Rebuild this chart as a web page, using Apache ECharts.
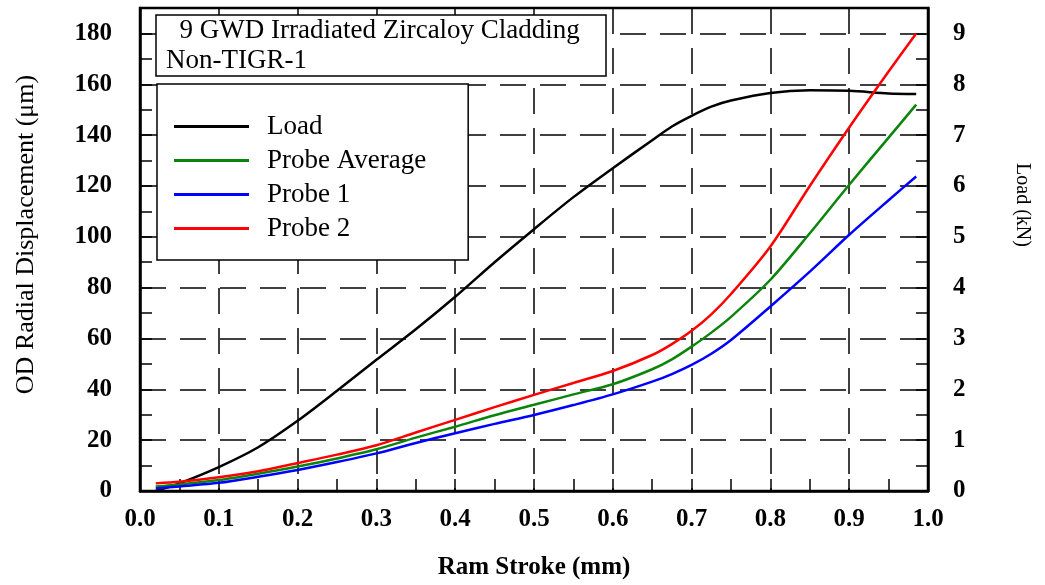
<!DOCTYPE html>
<html>
<head>
<meta charset="utf-8">
<script src="https://cdn.jsdelivr.net/npm/echarts@6/dist/echarts.min.js"></script>
<style>
  html, body { margin: 0; padding: 0; background: #fff; }
  #chart { width: 1045px; height: 585px; }
</style>
</head>
<body>
<div id="chart"></div>
<script>
  // ram stroke (mm)
  const stroke = [0.02, 0.05, 0.1, 0.15, 0.2, 0.25, 0.3, 0.35, 0.4, 0.45, 0.5, 0.55, 0.6, 0.65, 0.675, 0.7, 0.725, 0.75, 0.8, 0.85, 0.9, 0.95, 0.985];
  // load (kN), right axis
  const load = [0, 0.15, 0.47, 0.86, 1.38, 1.97, 2.58, 3.18, 3.82, 4.50, 5.15, 5.78, 6.35, 6.90, 7.17, 7.38, 7.56, 7.68, 7.83, 7.88, 7.87, 7.82, 7.81];
  // OD radial displacement (um), left axis
  const probeAvg = [1.8, 2.6, 4.3, 6.8, 9.6, 12.8, 16.4, 21.0, 25.3, 29.8, 33.9, 38.0, 42.0, 47.9, 51.8, 56.8, 62.3, 68.5, 83.1, 101.4, 120.5, 139.0, 152.0];
  const probe1 = [1.0, 1.8, 3.2, 5.6, 8.3, 11.4, 14.8, 18.9, 22.7, 26.4, 29.9, 33.8, 38.0, 43.0, 46.0, 49.6, 54.0, 59.4, 72.6, 86.3, 100.8, 114.4, 123.7];
  const probe2 = [3.0, 3.6, 5.4, 7.8, 11.0, 14.3, 18.0, 23.0, 28.0, 33.0, 37.8, 42.5, 47.2, 53.5, 57.8, 63.0, 69.5, 77.5, 96.2, 120.0, 143.0, 165.0, 180.0];
  const seriesNames = ['Load', 'Probe Average', 'Probe 1', 'Probe 2'];
  const seriesColors = ['#000000', '#0a850a', '#0000ff', '#ff0000'];

  const serif = '"Liberation Serif", "DejaVu Serif", serif';
  const pair = function (ys) { return stroke.map(function (x, i) { return [x, ys[i]]; }); };
  // every second split line is drawn, so the grid keeps the labelled steps
  const gridDash = { color: ['#000', 'rgba(0,0,0,0)'], width: 1.5, type: [26, 14] };
  const ticks = { show: true, inside: true, length: 12, lineStyle: { color: '#000', width: 1.5 } };
  const tickFont = { fontFamily: serif, fontSize: 25, fontWeight: 'bold', color: '#000' };
  const frameLine = { show: true, onZero: false, lineStyle: { color: '#000', width: 2.5 } };

  const chart = echarts.init(document.getElementById('chart'), null, { renderer: 'canvas' });
  chart.setOption({
    animation: false,
    backgroundColor: '#fff',
    grid: { left: 140, right: 117, top: 8, bottom: 94, show: true, borderColor: '#000', borderWidth: 2.5 },
    title: {
      text: '  9 GWD Irradiated Zircaloy Cladding\nNon-TIGR-1',
      left: 156, top: 15,
      padding: [1, 26, 0, 10],
      backgroundColor: '#fff', borderColor: '#000', borderWidth: 1.5,
      textStyle: { fontFamily: serif, fontSize: 27, fontWeight: 'normal', lineHeight: 30, color: '#000' },
    },
    legend: {
      data: seriesNames,
      orient: 'vertical',
      left: 157, top: 84,
      padding: [29, 42, 18, 17],
      itemGap: 7,
      icon: 'rect',
      itemWidth: 75, itemHeight: 3,
      backgroundColor: '#fff', borderColor: '#000', borderWidth: 1.5,
      textStyle: { fontFamily: serif, fontSize: 27, color: '#000', padding: [0, 0, 0, 13] },
    },
    xAxis: {
      type: 'value', min: 0, max: 1, interval: 0.05, position: 'bottom',
      name: 'Ram Stroke (mm)', nameLocation: 'middle', nameGap: 64,
      nameTextStyle: tickFont,
      axisLine: frameLine,
      axisTick: ticks,
      axisLabel: Object.assign({
        margin: 16,
        formatter: function (v) { return Math.round(v * 100) % 10 === 0 ? v.toFixed(1) : ''; },
      }, tickFont),
      splitLine: { show: true, lineStyle: gridDash },
    },
    yAxis: [
      {
        type: 'value', min: 0, max: 190, interval: 10, position: 'left',
        name: 'OD Radial Displacement (\u03bcm)', nameLocation: 'middle', nameGap: 101,
        nameTextStyle: { fontFamily: serif, fontSize: 26, color: '#000', padding: [0, 0, 0, 30] },
        axisLine: frameLine,
        axisTick: ticks,
        axisLabel: Object.assign({
          margin: 28,
          formatter: function (v) { return v % 20 === 0 && v <= 180 ? String(v) : ''; },
        }, tickFont),
        splitLine: { show: true, lineStyle: gridDash },
      },
      {
        type: 'value', min: 0, max: 9.5, interval: 0.5, position: 'right',
        axisLine: frameLine,
        axisTick: ticks,
        axisLabel: Object.assign({
          margin: 25,
          formatter: function (v) { return Math.abs(v - Math.round(v)) < 1e-6 && v <= 9 ? String(Math.round(v)) : ''; },
        }, tickFont),
        splitLine: { show: false },
      },
    ],
    graphic: [
      {
        type: 'text', x: 1022, y: 205, rotation: -Math.PI / 2,
        style: { text: 'Load (kN)', fontFamily: serif, fontSize: 20, fill: '#000', align: 'center', verticalAlign: 'middle' },
      },
    ],
    series: [
      { name: 'Load', type: 'line', yAxisIndex: 1, data: pair(load) },
      { name: 'Probe Average', type: 'line', yAxisIndex: 0, data: pair(probeAvg) },
      { name: 'Probe 1', type: 'line', yAxisIndex: 0, data: pair(probe1) },
      { name: 'Probe 2', type: 'line', yAxisIndex: 0, data: pair(probe2) },
    ].map(function (s, i) {
      s.smooth = 0.3;
      s.symbol = 'none';
      s.color = seriesColors[i];
      s.lineStyle = { color: seriesColors[i], width: 2.5 };
      return s;
    }),
  });
</script>
</body>
</html>
